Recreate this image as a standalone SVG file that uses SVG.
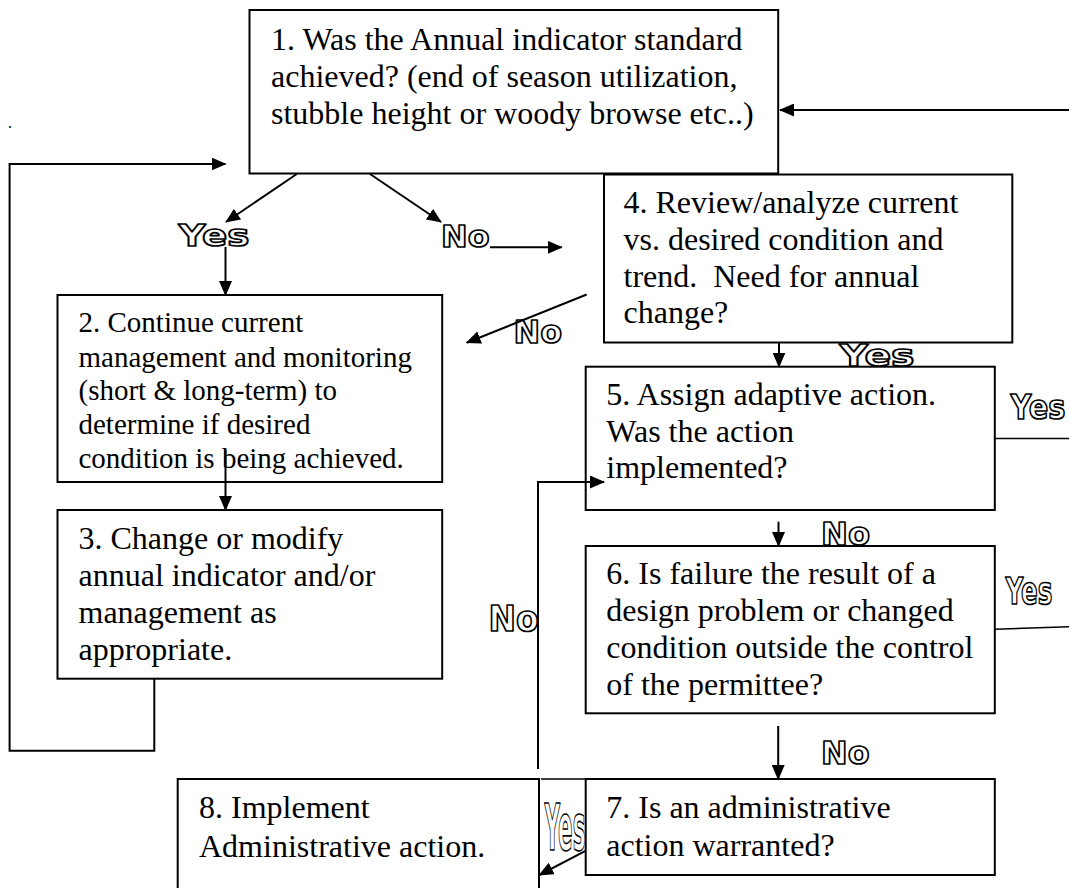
<svg xmlns="http://www.w3.org/2000/svg" width="1069" height="888" viewBox="0 0 1069 888">
<style>
.box{fill:#fff;stroke:#000;stroke-width:2}
.t{font-family:"Liberation Serif","Times New Roman",serif;font-size:32px;fill:#000;white-space:pre}
.t2{font-size:29px}
.c{fill:none;stroke:#000;stroke-width:2}
.thin{stroke-width:1.5}
.lbl{font-family:"DejaVu Sans","Liberation Sans",sans-serif;font-weight:bold;fill:#fff;stroke:#000;stroke-width:1.7;stroke-linejoin:round}
</style>
<defs>
<marker id="ah" markerWidth="15" markerHeight="13" refX="14" refY="6.5" orient="auto" markerUnits="userSpaceOnUse"><path d="M0,0 L15,6.5 L0,13 z" fill="#000"/></marker>
</defs>
<rect width="1069" height="888" fill="#fff"/>
<text x="8" y="128" class="t" style="font-size:16px">.</text>

<g id="node1"><rect class="box" x="249.5" y="10" width="528.7" height="163.5"/>
<text class="t" x="271" y="50">1. Was the Annual indicator standard</text>
<text class="t" x="271" y="87">achieved? (end of season utilization,</text>
<text class="t" x="271" y="124">stubble height or woody browse etc..)</text></g>

<g id="node4"><rect class="box" x="604" y="174.5" width="408.3" height="168"/>
<text class="t" x="623.5" y="213.3">4. Review/analyze current</text>
<text class="t" x="623.5" y="250">vs. desired condition and</text>
<text class="t" x="623.5" y="286.7">trend.  Need for annual</text>
<text class="t" x="623.5" y="323.3">change?</text></g>

<g id="node2"><rect class="box" x="57.5" y="295" width="384.7" height="187"/>
<text class="t t2" x="78.5" y="331.7">2. Continue current</text>
<text class="t t2" x="78.5" y="366.7">management and monitoring</text>
<text class="t t2" x="78.5" y="400">(short &amp; long-term) to</text>
<text class="t t2" x="78.5" y="433.5">determine if desired</text>
<text class="t t2" x="78.5" y="468.3">condition is being achieved.</text></g>

<g id="node3"><rect class="box" x="57.5" y="510" width="384.7" height="168.7"/>
<text class="t" x="78.5" y="549.3">3. Change or modify</text>
<text class="t" x="78.5" y="586">annual indicator and/or</text>
<text class="t" x="78.5" y="623">management as</text>
<text class="t" x="78.5" y="660">appropriate.</text></g>

<g id="node5"><rect class="box" x="585.7" y="366.7" width="409.1" height="143.3"/>
<text class="t" x="606.3" y="405">5. Assign adaptive action.</text>
<text class="t" x="606.3" y="441.7">Was the action</text>
<text class="t" x="606.3" y="478.3">implemented?</text></g>

<g id="node6"><rect class="box" x="585.7" y="546" width="409.1" height="167.3"/>
<text class="t" x="606.3" y="584">6. Is failure the result of a</text>
<text class="t" x="606.3" y="621">design problem or changed</text>
<text class="t" x="606.3" y="658">condition outside the control</text>
<text class="t" x="606.3" y="695">of the permittee?</text></g>

<g id="node7"><rect class="box" x="585.7" y="779" width="409.1" height="96"/>
<text class="t" x="606.3" y="818.3">7. Is an administrative</text>
<text class="t" x="606.3" y="856">action warranted?</text></g>

<g id="node8"><rect class="box" x="177.7" y="779" width="361.3" height="120"/>
<text class="t" x="199" y="818.3">8. Implement</text>
<text class="t" x="199" y="856.7">Administrative action.</text></g>

<g id="labels">
<text class="lbl" x="178.5" y="246" font-size="31" textLength="71" lengthAdjust="spacingAndGlyphs">Yes</text>
<text class="lbl" x="441" y="246.5" font-size="31" textLength="48.5" lengthAdjust="spacingAndGlyphs">No</text>
<text class="lbl" x="513.5" y="342.5" font-size="32" textLength="48.5" lengthAdjust="spacingAndGlyphs">No</text>
<text class="lbl" x="839.5" y="365.5" font-size="31" textLength="75" lengthAdjust="spacingAndGlyphs">Yes</text>
<text class="lbl" x="1010.5" y="418.5" font-size="33" textLength="55" lengthAdjust="spacingAndGlyphs">Yes</text>
<text class="lbl" x="821" y="545" font-size="32" textLength="49" lengthAdjust="spacingAndGlyphs">No</text>
<text class="lbl" x="1005.5" y="604" font-size="37" textLength="47" lengthAdjust="spacingAndGlyphs">Yes</text>
<text class="lbl" x="488.5" y="631" font-size="35" textLength="50" lengthAdjust="spacingAndGlyphs">No</text>
<text class="lbl" x="821" y="763.5" font-size="32" textLength="48.5" lengthAdjust="spacingAndGlyphs">No</text>
<text class="lbl" x="544.5" y="850" font-size="64" textLength="41" lengthAdjust="spacingAndGlyphs">Yes</text>
</g>

<g id="connectors">
<polyline class="c" points="154.3,678.7 154.3,750.7 9.6,750.7 9.6,164 225.5,164" marker-end="url(#ah)"/>
<line class="c" x1="296.8" y1="174" x2="226" y2="222" marker-end="url(#ah)"/>
<line class="c" x1="370" y1="174" x2="441" y2="222" marker-end="url(#ah)"/>
<line class="c" x1="225.5" y1="247" x2="225.5" y2="295" marker-end="url(#ah)"/>
<line class="c" x1="490" y1="247.3" x2="561.7" y2="247.3" marker-end="url(#ah)"/>
<line class="c" x1="586.7" y1="294.5" x2="466.7" y2="342.7" marker-end="url(#ah)"/>
<line class="c" x1="225.5" y1="450" x2="225.5" y2="510" marker-end="url(#ah)"/>
<line class="c" x1="779" y1="342.5" x2="779" y2="366.7" marker-end="url(#ah)"/>
<line class="c thin" x1="995" y1="438.5" x2="1069" y2="438.5"/>
<line class="c" x1="1069" y1="110" x2="780" y2="110" marker-end="url(#ah)"/>
<line class="c" x1="778.5" y1="521.7" x2="778.5" y2="546" marker-end="url(#ah)"/>
<line class="c thin" x1="995" y1="629.3" x2="1069" y2="626.7"/>
<line class="c" x1="778.2" y1="726" x2="778.2" y2="779" marker-end="url(#ah)"/>
<polyline class="c" points="538,769 538,482 604,482" marker-end="url(#ah)"/>
<line class="c thin" x1="541" y1="779" x2="586" y2="779"/>
<line class="c" x1="586" y1="850.7" x2="539.3" y2="875" marker-end="url(#ah)"/>
</g>
</svg>
